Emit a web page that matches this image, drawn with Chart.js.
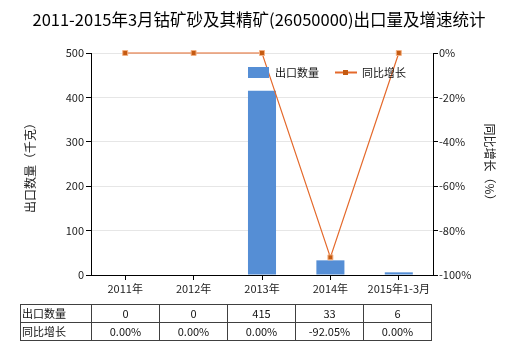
<!DOCTYPE html>
<html>
<head>
<meta charset="utf-8">
<script src="https://cdn.jsdelivr.net/npm/chart.js@4"></script>
<style>
    html, body { margin: 0; padding: 0; background: #fff; }
    #wrap { position: relative; width: 520px; height: 350px; }
    #chart { position: absolute; left: 0; top: 0; }
    table.data {
        position: absolute; left: 20px; top: 304px;
        border-collapse: collapse;
        font-family: "Noto Sans CJK SC", "DejaVu Sans", sans-serif;
        font-size: 11px; color: #111;
    }
    table.data td {
        border: 1px solid #404040; height: 17px; padding: 0;
        text-align: center; line-height: 17px; width: 67px;
    }
    table.data td.head { text-align: left; width: 69px; padding-left: 1px; }
</style>
</head>
<body>
<div id="wrap">
    <canvas id="chart" width="520" height="350"></canvas>
    <table class="data" id="dataTable"></table>
</div>
<script>
const title = '2011-2015年3月钴矿砂及其精矿(26050000)出口量及增速统计';
const categories = ['2011年', '2012年', '2013年', '2014年', '2015年1-3月'];
const exportQty = [0, 0, 415, 33, 6];
const growthRate = [0, 0, 0, -92.05, 0];
const qtyLabel = '出口数量';
const growthLabel = '同比增长';
const leftAxisTitle = '出口数量（千克）';
const rightAxisTitle = '同比增长（%）';

const FONT = '"Noto Sans CJK SC", "DejaVu Sans", sans-serif';
const BAR_COLOR = '#558ed5';
const LINE_COLOR = '#e4692b';
const MARKER_COLOR = '#c55a11';

// table under the chart
const table = document.getElementById('dataTable');
table.innerHTML = `
    <tr><td class="head">${qtyLabel}</td>${exportQty.map(v => `<td>${v}</td>`).join('')}</tr>
    <tr><td class="head">${growthLabel}</td>${growthRate.map(v => `<td>${v.toFixed(2)}%</td>`).join('')}</tr>
`;

const decorPlugin = {
    id: 'decor',
    afterDraw(chart) {
        const ctx = chart.ctx;
        const area = chart.chartArea;
        ctx.save();
        // title
        ctx.fillStyle = '#000';
        ctx.font = '16.5px ' + FONT;
        ctx.textAlign = 'center';
        ctx.textBaseline = 'middle';
        ctx.fillText(title, 259, 20);

        // axis titles
        ctx.font = '12px ' + FONT;
        ctx.fillStyle = '#222';
        ctx.save();
        ctx.translate(30, (area.top + area.bottom) / 2 + 1);
        ctx.rotate(-Math.PI / 2);
        ctx.fillText(leftAxisTitle, 0, 0);
        ctx.restore();
        ctx.save();
        ctx.translate(490, (area.top + area.bottom) / 2 + 1);
        ctx.rotate(Math.PI / 2);
        ctx.fillText(rightAxisTitle, 0, 0);
        ctx.restore();

        // legend
        ctx.textAlign = 'left';
        ctx.font = '11px ' + FONT;
        ctx.fillStyle = BAR_COLOR;
        ctx.fillRect(248, 67, 21, 11);
        ctx.fillStyle = '#111';
        ctx.fillText(qtyLabel, 275, 73);
        ctx.strokeStyle = LINE_COLOR;
        ctx.lineWidth = 2;
        ctx.beginPath();
        ctx.moveTo(335, 72.5);
        ctx.lineTo(357, 72.5);
        ctx.stroke();
        ctx.fillStyle = MARKER_COLOR;
        ctx.fillRect(343, 70, 5, 5);
        ctx.fillStyle = '#111';
        ctx.fillText(growthLabel, 362, 73);
        ctx.restore();
    }
};

new Chart(document.getElementById('chart').getContext('2d'), {
    type: 'bar',
    data: {
        labels: categories,
        datasets: [{
            type: 'line',
            label: growthLabel,
            data: growthRate,
            yAxisID: 'y1',
            borderColor: LINE_COLOR,
            borderWidth: 1.2,
            pointStyle: 'rect',
            pointRadius: 3.5,
            pointBackgroundColor: MARKER_COLOR,
            pointBorderColor: '#f4b183',
            pointBorderWidth: 1,
            tension: 0,
            clip: false,
            order: 0
        }, {
            label: qtyLabel,
            data: exportQty,
            yAxisID: 'y',
            backgroundColor: BAR_COLOR,
            barPercentage: 0.41,
            categoryPercentage: 1,
            order: 1
        }]
    },
    options: {
        responsive: false,
        animation: false,
        layout: { padding: { top: 53, left: 0, right: 0, bottom: 0 } },
        plugins: {
            legend: { display: false },
            title: { display: false },
            tooltip: { enabled: false }
        },
        scales: {
            x: {
                grid: { drawOnChartArea: false, offset: false, tickLength: 5, color: '#000' },
                border: { color: '#000' },
                ticks: { color: '#222', font: { family: FONT, size: 11 }, padding: 2, maxRotation: 0 },
                afterFit(scale) { scale.height = 75; }
            },
            y: {
                position: 'left',
                min: 0, max: 500,
                ticks: { stepSize: 100, color: '#222', font: { family: FONT, size: 11 }, padding: 2 },
                grid: {
                    color: '#e6e6e6',
                    tickColor: '#000',
                    tickLength: 5
                },
                border: { color: '#000' },
                afterFit(scale) { scale.width = 91; }
            },
            y1: {
                position: 'right',
                min: -100, max: 0,
                ticks: {
                    stepSize: 20, color: '#222', font: { family: FONT, size: 11 }, padding: 1,
                    callback: v => v + '%'
                },
                grid: { drawOnChartArea: false, tickColor: '#000', tickLength: 5 },
                border: { color: '#000' },
                afterFit(scale) { scale.width = 87; }
            }
        }
    },
    plugins: [decorPlugin]
});
</script>
</body>
</html>
